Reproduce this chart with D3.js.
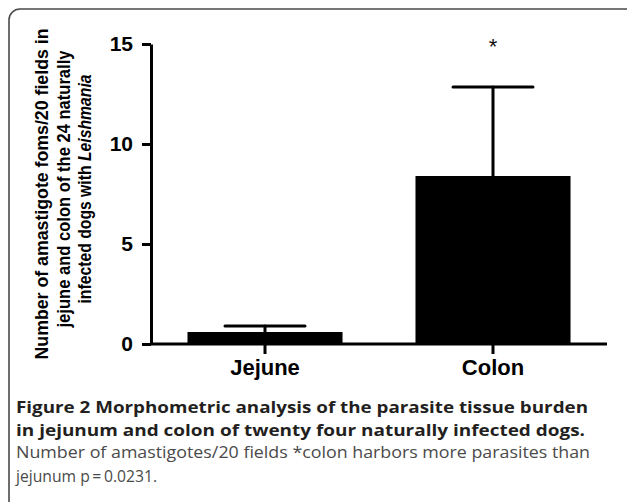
<!DOCTYPE html>
<html>
<head>
<meta charset="utf-8">
<script src="https://cdn.jsdelivr.net/npm/d3@7"></script>
<style>
  body { margin: 0; background: #fff; }
  svg { display: block; }
</style>
</head>
<body>
<div id="viscontainer"></div>
<script>
// data
const groups = ["Jejune", "Colon"];
const means = [0.6, 8.4];
const errorTops = [0.9, 12.85];
const yTicks = [0, 5, 10, 15];
const significant = [false, true];

const yTitleLines = [
  ["Number of amastigote foms/20 fields in"],
  ["jejune and colon of the 24 naturally"],
  ["infected dogs with ", "Leishmania"],
];
const captionBold = [
  "Figure 2 Morphometric analysis of the parasite tissue burden",
  "in jejunum and colon of twenty four naturally infected dogs.",
];
const captionPlain = [
  "Number of amastigotes/20 fields *colon harbors more parasites than",
  "jejunum p\u2009=\u20090.0231.",
];

function makeVis() {
  const width = 627;
  const height = 502;
  const axisLeft = 151;
  const axisRight = 607;
  const axisBottom = 344;
  const axisTop = 44;

  const svg = d3.create("svg").attr("width", width).attr("height", height);
  document.getElementById("viscontainer").append(svg.node());

  // rounded frame round the figure
  svg.append("rect")
    .attr("x", 9).attr("y", 9)
    .attr("width", 660).attr("height", 540)
    .attr("rx", 11)
    .attr("fill", "none")
    .attr("stroke", "#4a4a4a")
    .attr("stroke-width", 1.6);

  const xScale = d3.scaleBand()
    .domain(groups)
    .range([axisLeft, axisRight])
    .paddingInner(0.32)
    .paddingOuter(0.16);

  const yScale = d3.scaleLinear()
    .domain([0, 15])
    .range([axisBottom, axisTop]);

  const data = groups.map((g, i) => ({
    group: g, mean: means[i], top: errorTops[i], sig: significant[i]
  }));

  // bars
  svg.append("g")
    .selectAll("rect")
    .data(data)
    .join("rect")
    .attr("x", d => xScale(d.group))
    .attr("y", d => yScale(d.mean))
    .attr("width", xScale.bandwidth())
    .attr("height", d => axisBottom - yScale(d.mean))
    .attr("fill", "#000");

  // error bars (upper only)
  const capHalf = 40;
  const err = svg.append("g")
    .attr("stroke", "#000")
    .attr("stroke-width", 3)
    .attr("stroke-linecap", "round");
  err.selectAll("line.stem")
    .data(data)
    .join("line")
    .attr("class", "stem")
    .attr("x1", d => xScale(d.group) + xScale.bandwidth() / 2)
    .attr("x2", d => xScale(d.group) + xScale.bandwidth() / 2)
    .attr("y1", d => yScale(d.mean))
    .attr("y2", d => yScale(d.top));
  err.selectAll("line.cap")
    .data(data)
    .join("line")
    .attr("class", "cap")
    .attr("x1", d => xScale(d.group) + xScale.bandwidth() / 2 - capHalf)
    .attr("x2", d => xScale(d.group) + xScale.bandwidth() / 2 + capHalf)
    .attr("y1", d => yScale(d.top))
    .attr("y2", d => yScale(d.top));

  // significance star
  svg.append("g")
    .selectAll("text")
    .data(data.filter(d => d.sig))
    .join("text")
    .attr("x", d => xScale(d.group) + xScale.bandwidth() / 2)
    .attr("y", 54)
    .attr("text-anchor", "middle")
    .attr("font-family", "Liberation Sans, Arial, sans-serif")
    .attr("font-size", 22)
    .attr("fill", "#111")
    .text("*");

  // axes
  const xAxis = svg.append("g")
    .attr("transform", `translate(0, ${axisBottom})`)
    .call(d3.axisBottom(xScale).tickSize(10).tickSizeOuter(0).tickPadding(5));
  const yAxis = svg.append("g")
    .attr("transform", `translate(${axisLeft}, 0)`)
    .call(d3.axisLeft(yScale).tickValues(yTicks).tickSize(9).tickSizeOuter(0).tickPadding(9));

  [xAxis, yAxis].forEach(ax => {
    ax.selectAll("path, line").attr("stroke", "#000").attr("stroke-width", 3);
    ax.selectAll("text")
      .attr("fill", "#000")
      .attr("font-family", "Liberation Sans, Arial, sans-serif")
      .attr("font-weight", "bold");
  });
  xAxis.selectAll("text").attr("font-size", 22);
  yAxis.selectAll("text").attr("font-size", 21);
  xAxis.select(".domain").attr("d", `M${axisLeft - 1},0H${axisRight}`);

  // y axis title
  const titleBaselines = [48, 69.5, 91];
  const titleCenters = [194, 189, 189];
  const titleLengths = [331, 277, 229];
  const yTitle = svg.append("g")
    .attr("font-family", "Liberation Sans, Arial, sans-serif")
    .attr("font-weight", "bold")
    .attr("font-size", 17.5)
    .attr("fill", "#000");
  yTitleLines.forEach((parts, i) => {
    const t = yTitle.append("text")
      .attr("transform", "rotate(-90)")
      .attr("x", -titleCenters[i])
      .attr("y", titleBaselines[i])
      .attr("text-anchor", "middle")
      .attr("textLength", titleLengths[i])
      .attr("lengthAdjust", "spacingAndGlyphs");
    parts.forEach((p, j) => {
      t.append("tspan")
        .attr("font-style", j === 1 ? "italic" : "normal")
        .text(p);
    });
  });

  // caption
  const cap = svg.append("g")
    .attr("font-family", "Open Sans, sans-serif")
    .attr("font-size", 15.5);
  const capBaselines = [413, 435.5, 458, 481.5];
  const capWidths = [572, 569, 574, 141];
  captionBold.forEach((line, i) => {
    cap.append("text")
      .attr("x", 16)
      .attr("y", capBaselines[i])
      .attr("font-weight", "bold")
      .attr("fill", "#231f20")
      .attr("textLength", capWidths[i])
      .attr("lengthAdjust", "spacingAndGlyphs")
      .text(line);
  });
  captionPlain.forEach((line, i) => {
    cap.append("text")
      .attr("x", 16)
      .attr("y", capBaselines[i + 2])
      .attr("fill", "#4a4a4a")
      .attr("textLength", capWidths[i + 2])
      .attr("lengthAdjust", "spacingAndGlyphs")
      .text(line);
  });
}

makeVis();
</script>
</body>
</html>
